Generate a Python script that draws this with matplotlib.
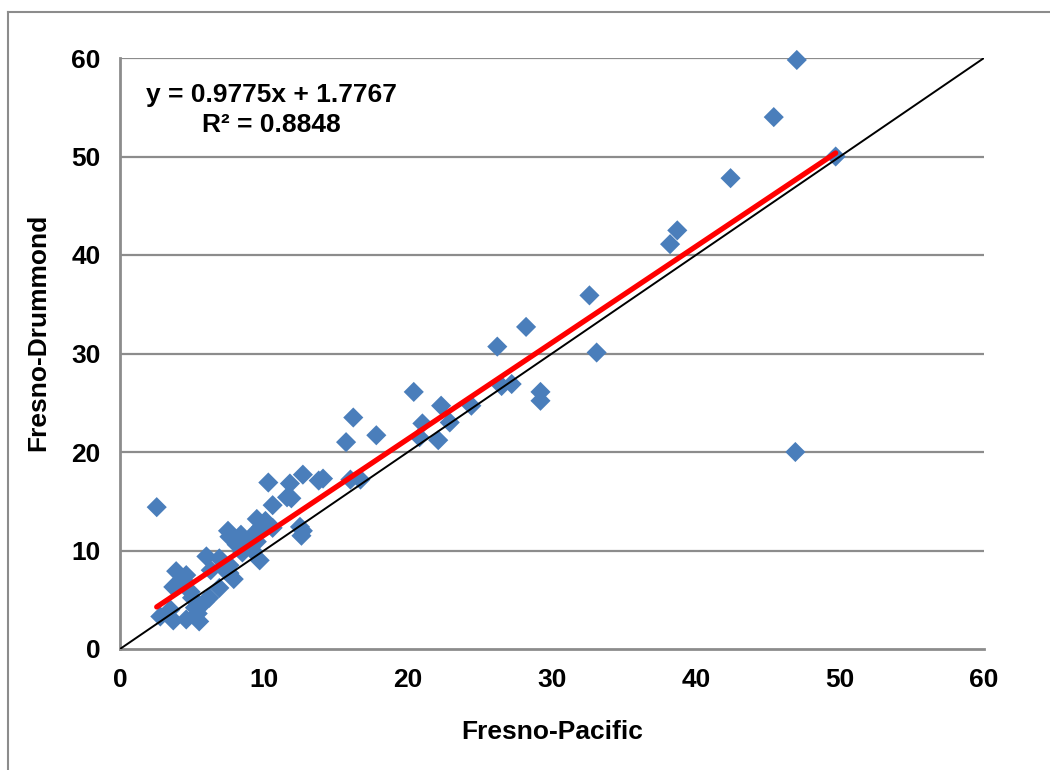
import matplotlib
matplotlib.use("Agg")
import matplotlib.pyplot as plt
from matplotlib.lines import Line2D

# Data (Fresno-Pacific vs Fresno-Drummond)
pacific = [47.0, 45.4, 42.4, 49.7, 38.7, 38.2, 32.6, 33.1, 28.2, 26.2,
           29.2, 29.2, 26.5, 27.2, 24.4, 22.3, 22.9, 21.0, 20.4, 20.8,
           22.1, 16.2, 15.7, 17.8, 16.0, 16.7, 46.9, 14.1, 13.8, 12.7,
           11.8, 10.3, 11.6, 11.9, 10.6, 9.5, 10.1, 9.8, 12.5, 12.6,
           12.7, 2.55,
           7.5, 7.6, 8.4, 9.5, 9.7, 9.2, 6.0, 6.9, 7.3, 7.6,
           7.9, 7.6, 6.9, 6.2, 5.4, 5.5, 4.6, 3.7, 2.8, 3.5,
           4.9, 4.4, 3.7, 3.9, 4.6, 5.2, 5.9, 6.3, 8.5, 8.9,
           8.1, 10.6, 9.3, 5.0]
drummond = [59.8, 54.0, 47.8, 50.0, 42.5, 41.1, 35.9, 30.1, 32.7, 30.7,
            26.1, 25.2, 26.7, 26.9, 24.7, 24.7, 23.0, 22.9, 26.1, 21.5,
            21.2, 23.5, 21.0, 21.7, 17.2, 17.2, 20.0, 17.3, 17.1, 17.7,
            16.8, 16.9, 15.4, 15.3, 14.6, 13.2, 13.0, 12.4, 12.4, 11.5,
            12.0, 14.4,
            12.0, 11.4, 11.6, 10.9, 9.0, 10.0, 9.4, 9.2, 8.0, 7.7,
            7.1, 8.5, 6.2, 5.2, 3.6, 2.8, 3.0, 2.9, 3.3, 4.0,
            5.8, 7.0, 6.3, 7.9, 7.5, 4.2, 4.8, 8.0, 9.8, 10.5,
            10.6, 12.3, 11.7, 5.2]

slope = 0.9775
intercept = 1.7767
r_squared = 0.8848
ticks = [0, 10, 20, 30, 40, 50, 60]

plt.rcParams['font.family'] = ['Liberation Sans', 'DejaVu Sans']

fig = plt.figure(figsize=(10.5, 7.7), dpi=100)
ax = fig.add_axes([120 / 1050, 1 - 649 / 770, 864 / 1050, 591 / 770])

# outer chart border (only left and top edges are visible in the reference)
bx, by = 8 / 1050, 1 - 12 / 770
fig.lines.append(Line2D([bx, bx], [0, by], transform=fig.transFigure,
                        color='#8c8c8c', linewidth=1.5))
fig.lines.append(Line2D([bx, 1], [by, by], transform=fig.transFigure,
                        color='#8c8c8c', linewidth=1.5))

for t in ticks[1:]:
    ax.axhline(t, color='#8c8c8c', linewidth=1.6, zorder=1)

ax.scatter(pacific, drummond, marker='D', s=105, color='#4a7ebb',
           edgecolors='none', zorder=3, clip_on=False)

# 1:1 line
ax.plot([0, 60], [0, 60], color='black', linewidth=1.4, zorder=4)

# linear trendline
x0, x1 = min(pacific), max(pacific)
ax.plot([x0, x1], [slope * x0 + intercept, slope * x1 + intercept],
        color='#ff0000', linewidth=3.8, solid_capstyle='round', zorder=5)

ax.set_xlim(0, 60)
ax.set_ylim(0, 60)
ax.set_xticks(ticks)
ax.set_yticks(ticks)
ax.tick_params(length=0, labelsize=19, pad=14)
for lab in ax.get_xticklabels() + ax.get_yticklabels():
    lab.set_fontweight('bold')

for side in ['top', 'right']:
    ax.spines[side].set_visible(False)
for side in ['left', 'bottom']:
    ax.spines[side].set_color('#8c8c8c')
    ax.spines[side].set_linewidth(2)

ax.set_xlabel('Fresno-Pacific', fontsize=19, fontweight='bold', labelpad=20)
ax.set_ylabel('Fresno-Drummond', fontsize=19, fontweight='bold')
ax.yaxis.set_label_coords(-0.081, 0.536)

ax.text(0.175, 0.937, f'y = {slope}x + {intercept}', transform=ax.transAxes,
        fontsize=19, fontweight='bold', ha='center', va='center')
ax.text(0.175, 0.887, f'R² = {r_squared}', transform=ax.transAxes,
        fontsize=19, fontweight='bold', ha='center', va='center')

fig.savefig('out.png', dpi=100)
